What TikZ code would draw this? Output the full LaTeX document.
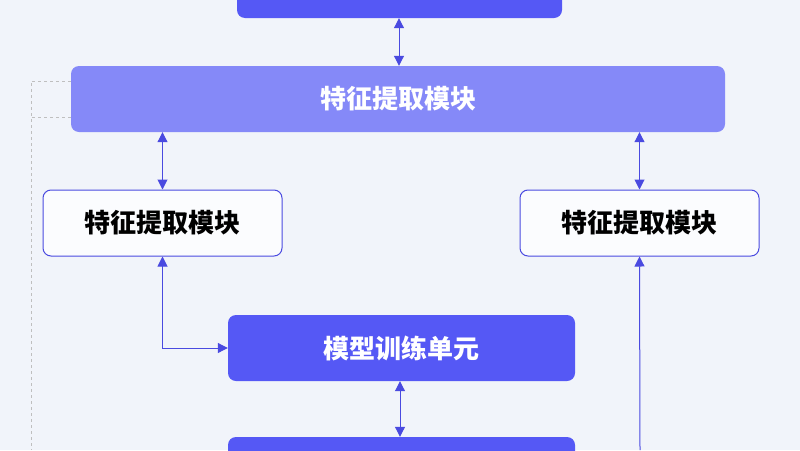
\documentclass[tikz,border=0pt]{standalone}
\usepackage{fontspec}
\newfontfamily\cjk{Noto Sans CJK SC}
\usetikzlibrary{arrows.meta}
\definecolor{bg}{HTML}{F1F4FA}
\definecolor{blu}{HTML}{5558F5}
\definecolor{lblu}{HTML}{8589F8}
\definecolor{edge}{HTML}{4A4AE0}
\begin{document}
\begin{tikzpicture}[x=1pt,y=-1pt,
  solid box/.style={rounded corners=8pt,fill=blu,text=white,font=\cjk\bfseries\fontsize{26}{30}\selectfont},
  light box/.style={rounded corners=8pt,fill=lblu,text=white,font=\cjk\bfseries\fontsize{26}{30}\selectfont},
  white box/.style={rounded corners=8pt,fill=white!70!bg,draw=edge,line width=1pt,text=black,font=\cjk\bfseries\fontsize{26}{30}\selectfont},
  conn/.style={draw=edge,line width=1pt,{Triangle[length=10pt,width=10pt]}-{Triangle[length=10pt,width=10pt]}},
  conn1/.style={draw=edge,line width=1pt,-{Triangle[length=10pt,width=10pt]}}]
\fill[bg] (0,0) rectangle (800,450);
\useasboundingbox (0,0) rectangle (800,450);
\node[solid box,minimum width=325pt,minimum height=38pt] (top) at (399.5,-1) {};
\node[light box,minimum width=654pt,minimum height=66pt] (fe) at (398,99) {特征提取模块};
\node[white box,minimum width=239pt,minimum height=66pt] (l) at (162.5,223) {特征提取模块};
\node[white box,minimum width=239pt,minimum height=66pt] (r) at (639.5,223) {特征提取模块};
\node[solid box,minimum width=347pt,minimum height=66pt] (m) at (401.5,348) {模型训练单元};
\node[solid box,minimum width=347pt,minimum height=60pt] (b) at (401.5,467) {};
\draw[conn] (top.south -| 399,0) -- (fe.north -| 399,0);
\draw[conn] (fe.south -| l) -- (l.north);
\draw[conn] (fe.south -| r) -- (r.north);
\draw[conn] (l.south) |- (m.west);
\draw[conn] (m.south -| 400,0) -- (b.north -| 400,0);
\coordinate (rb) at (640,450);
\draw[conn1] (rb) -- (r.south);
\coordinate (d1) at (31,81);
\coordinate (d2) at (31,117);
\coordinate (d3) at (31,450);
\draw[gray!50,dashed,line width=0.6pt] (fe.west |- d1) -- (d1) -- (d3);
\draw[gray!50,dashed,line width=0.6pt] (fe.west |- d2) -- (d2);
\end{tikzpicture}
\end{document}
